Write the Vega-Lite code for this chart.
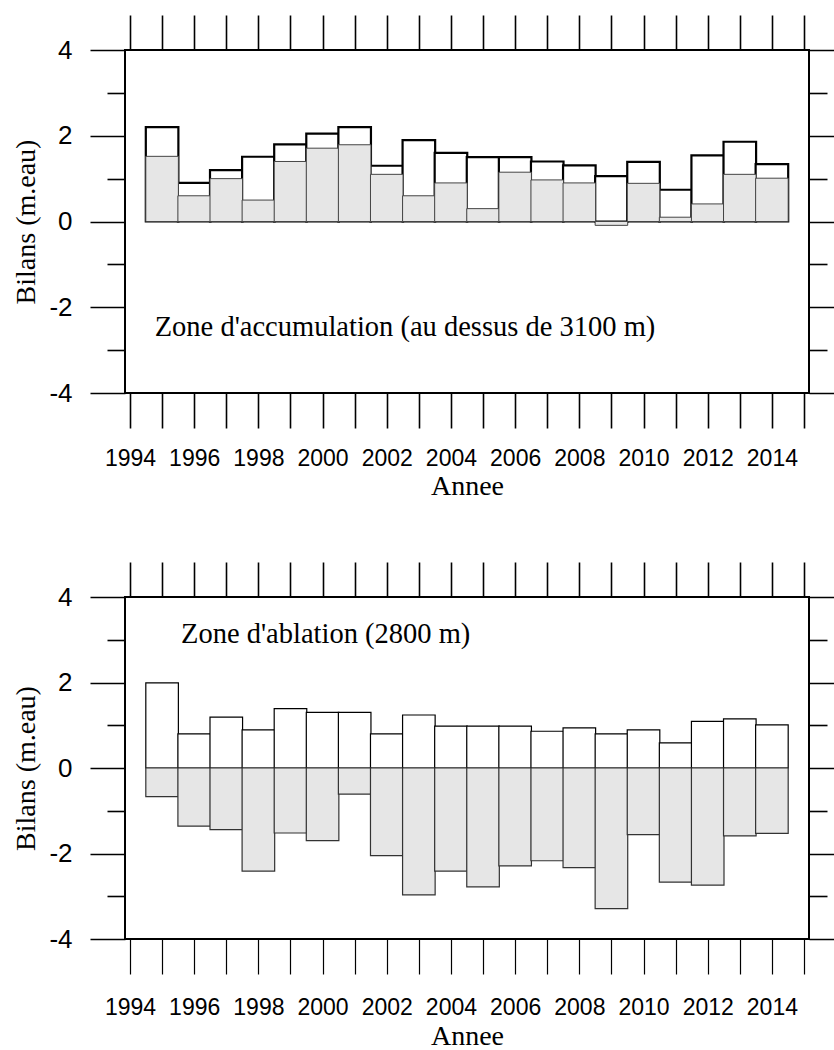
{
  "$schema": "https://vega.github.io/schema/vega-lite/v6.json",
  "background": "white",
  "padding": {"left": 11, "top": 13, "right": 0, "bottom": 0},
  "spacing": 59,
  "datasets": {
    "acc": [
      {"year": 1995, "winter": 2.20, "annual": 1.52},
      {"year": 1996, "winter": 0.90, "annual": 0.60},
      {"year": 1997, "winter": 1.20, "annual": 1.00},
      {"year": 1998, "winter": 1.51, "annual": 0.50},
      {"year": 1999, "winter": 1.80, "annual": 1.40},
      {"year": 2000, "winter": 2.05, "annual": 1.71},
      {"year": 2001, "winter": 2.20, "annual": 1.79},
      {"year": 2002, "winter": 1.30, "annual": 1.10},
      {"year": 2003, "winter": 1.90, "annual": 0.60},
      {"year": 2004, "winter": 1.60, "annual": 0.90},
      {"year": 2005, "winter": 1.50, "annual": 0.30},
      {"year": 2006, "winter": 1.50, "annual": 1.15},
      {"year": 2007, "winter": 1.40, "annual": 0.97},
      {"year": 2008, "winter": 1.31, "annual": 0.90},
      {"year": 2009, "winter": 1.06, "annual": -0.09},
      {"year": 2010, "winter": 1.39, "annual": 0.89},
      {"year": 2011, "winter": 0.74, "annual": 0.10},
      {"year": 2012, "winter": 1.54, "annual": 0.41},
      {"year": 2013, "winter": 1.86, "annual": 1.10},
      {"year": 2014, "winter": 1.34, "annual": 1.01}
    ],
    "abl": [
      {"year": 1995, "winter": 1.99, "annual": -0.67},
      {"year": 1996, "winter": 0.80, "annual": -1.36},
      {"year": 1997, "winter": 1.19, "annual": -1.44},
      {"year": 1998, "winter": 0.89, "annual": -2.41},
      {"year": 1999, "winter": 1.39, "annual": -1.52},
      {"year": 2000, "winter": 1.30, "annual": -1.70},
      {"year": 2001, "winter": 1.30, "annual": -0.61},
      {"year": 2002, "winter": 0.80, "annual": -2.05},
      {"year": 2003, "winter": 1.24, "annual": -2.97},
      {"year": 2004, "winter": 0.98, "annual": -2.41},
      {"year": 2005, "winter": 0.98, "annual": -2.78},
      {"year": 2006, "winter": 0.98, "annual": -2.29},
      {"year": 2007, "winter": 0.86, "annual": -2.17},
      {"year": 2008, "winter": 0.94, "annual": -2.33},
      {"year": 2009, "winter": 0.80, "annual": -3.29},
      {"year": 2010, "winter": 0.89, "annual": -1.56},
      {"year": 2011, "winter": 0.59, "annual": -2.67},
      {"year": 2012, "winter": 1.09, "annual": -2.74},
      {"year": 2013, "winter": 1.15, "annual": -1.59},
      {"year": 2014, "winter": 1.01, "annual": -1.53}
    ],
    "labels": [
      {"panel": "acc", "text": "Zone d'accumulation (au dessus de 3100 m)"},
      {"panel": "abl", "text": "Zone d'ablation (2800 m)"}
    ]
  },
  "config": {
    "view": {"stroke": "black", "strokeWidth": 2},
    "axis": {"grid": false, "domain": false, "tickColor": "black", "tickWidth": 1.6, "labelColor": "black", "titleColor": "black"}
  },
  "vconcat": [
    {
      "width": 684,
      "height": 343,
      "resolve": {"axis": {"x": "independent", "y": "independent"}},
      "layer": [
        {
          "data": {"name": "acc"},
          "mark": {"type": "bar", "width": 32.57, "fill": "white", "stroke": "black", "strokeWidth": 2.2},
          "encoding": {
            "x": {"field": "year", "type": "quantitative",
              "scale": {"domain": [1994, 2015], "nice": false, "zero": false},
              "axis": {"orient": "bottom", "values": [1994,1995,1996,1997,1998,1999,2000,2001,2002,2003,2004,2005,2006,2007,2008,2009,2010,2011,2012,2013,2014,2015],
                "format": "d", "labelExpr": "datum.value % 2 == 0 ? datum.label : ''", "tickSize": 35,
                "labelFont": "Liberation Sans", "labelFontSize": 23, "labelPadding": 19, "labelOverlap": false, "labelFlush": false,
                "title": "Annee", "titleFont": "Liberation Serif", "titleFontSize": 28, "titleFontWeight": "normal", "titlePadding": 2}},
            "y": {"field": "winter", "type": "quantitative",
              "scale": {"domain": [-4, 4], "nice": false},
              "axis": {"orient": "left", "values": [-4,-3,-2,-1,0,1,2,3,4],
                "labelExpr": "datum.value % 2 == 0 ? '' + datum.value : ''",
                "tickSize": {"condition": {"test": "datum.value % 2 == 0", "value": 35}, "value": 18},
                "labelFont": "Liberation Sans", "labelFontSize": 26, "labelPadding": 18,
                "title": "Bilans (m.eau)", "titleFont": "Liberation Serif", "titleFontSize": 28, "titleFontWeight": "normal", "titlePadding": 8}}
          }
        },
        {
          "data": {"name": "acc"},
          "mark": {"type": "bar", "width": 32.57, "fill": "#e6e6e6", "stroke": "#444444", "strokeWidth": 1},
          "encoding": {
            "x": {"field": "year", "type": "quantitative",
              "axis": {"orient": "top", "values": [1994,1995,1996,1997,1998,1999,2000,2001,2002,2003,2004,2005,2006,2007,2008,2009,2010,2011,2012,2013,2014,2015],
                "labels": false, "tickSize": 35, "title": null}},
            "y": {"field": "annual", "type": "quantitative",
              "axis": {"orient": "right", "values": [-4,-3,-2,-1,0,1,2,3,4], "labels": false,
                "tickSize": {"condition": {"test": "datum.value % 2 == 0", "value": 35}, "value": 18}, "title": null}}
          }
        },
        {
          "data": {"name": "labels"},
          "transform": [{"filter": "datum.panel == 'acc'"}],
          "mark": {"type": "text", "align": "left", "baseline": "alphabetic", "font": "Liberation Serif", "fontSize": 28.5, "color": "black"},
          "encoding": {
            "x": {"datum": 1994.77, "type": "quantitative", "axis": null},
            "y": {"datum": -2.67, "type": "quantitative", "axis": null},
            "text": {"field": "text"}
          }
        }
      ]
    },
    {
      "width": 684,
      "height": 342,
      "resolve": {"axis": {"x": "independent", "y": "independent"}},
      "layer": [
        {
          "data": {"name": "abl"},
          "mark": {"type": "bar", "width": 32.57, "fill": "white", "stroke": "black", "strokeWidth": 1.2},
          "encoding": {
            "x": {"field": "year", "type": "quantitative",
              "scale": {"domain": [1994, 2015], "nice": false, "zero": false},
              "axis": {"orient": "bottom", "values": [1994,1995,1996,1997,1998,1999,2000,2001,2002,2003,2004,2005,2006,2007,2008,2009,2010,2011,2012,2013,2014,2015],
                "format": "d", "labelExpr": "datum.value % 2 == 0 ? datum.label : ''", "tickSize": 35, "tickWidth": 1.2,
                "labelFont": "Liberation Sans", "labelFontSize": 23, "labelPadding": 22, "labelOverlap": false, "labelFlush": false,
                "title": "Annee", "titleFont": "Liberation Serif", "titleFontSize": 28, "titleFontWeight": "normal", "titlePadding": 3}},
            "y": {"field": "winter", "type": "quantitative",
              "scale": {"domain": [-4, 4], "nice": false},
              "axis": {"orient": "left", "values": [-4,-3,-2,-1,0,1,2,3,4],
                "labelExpr": "datum.value % 2 == 0 ? '' + datum.value : ''",
                "tickSize": {"condition": {"test": "datum.value % 2 == 0", "value": 35}, "value": 18},
                "labelFont": "Liberation Sans", "labelFontSize": 26, "labelPadding": 18,
                "title": "Bilans (m.eau)", "titleFont": "Liberation Serif", "titleFontSize": 28, "titleFontWeight": "normal", "titlePadding": 8}}
          }
        },
        {
          "data": {"name": "abl"},
          "mark": {"type": "bar", "width": 32.57, "fill": "#e6e6e6", "stroke": "#333333", "strokeWidth": 1.2},
          "encoding": {
            "x": {"field": "year", "type": "quantitative",
              "axis": {"orient": "top", "values": [1994,1995,1996,1997,1998,1999,2000,2001,2002,2003,2004,2005,2006,2007,2008,2009,2010,2011,2012,2013,2014,2015],
                "labels": false, "tickSize": 35, "title": null}},
            "y": {"field": "annual", "type": "quantitative",
              "axis": {"orient": "right", "values": [-4,-3,-2,-1,0,1,2,3,4], "labels": false,
                "tickSize": {"condition": {"test": "datum.value % 2 == 0", "value": 35}, "value": 18}, "title": null}}
          }
        },
        {
          "data": {"name": "labels"},
          "transform": [{"filter": "datum.panel == 'abl'"}],
          "mark": {"type": "text", "align": "left", "baseline": "alphabetic", "font": "Liberation Serif", "fontSize": 28.5, "color": "black"},
          "encoding": {
            "x": {"datum": 1995.59, "type": "quantitative", "axis": null},
            "y": {"datum": 2.92, "type": "quantitative", "axis": null},
            "text": {"field": "text"}
          }
        }
      ]
    }
  ]
}
